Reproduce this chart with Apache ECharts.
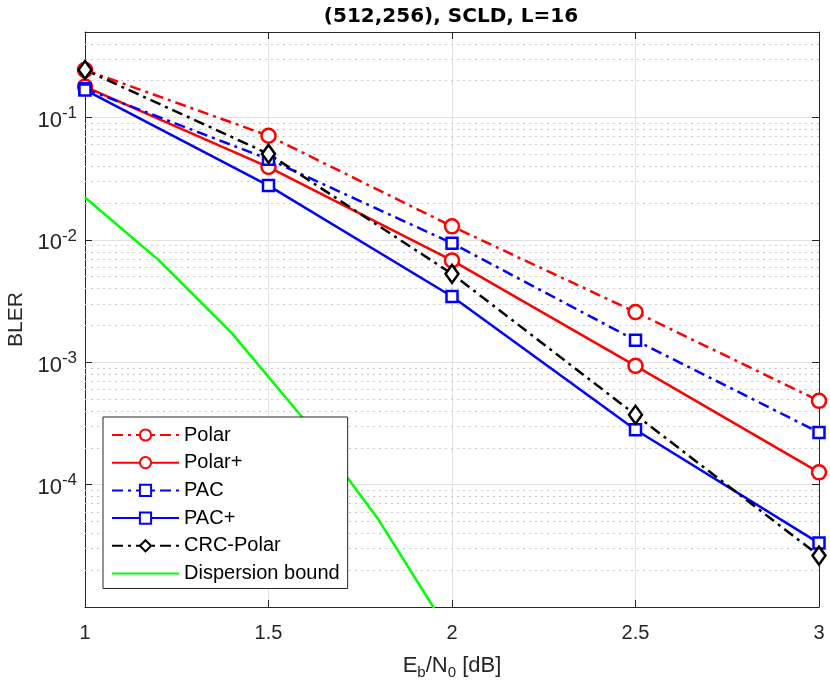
<!DOCTYPE html>
<html>
<head>
<meta charset="utf-8">
<script src="https://cdn.jsdelivr.net/npm/echarts@6/dist/echarts.min.js"></script>
<style>
html, body { margin: 0; padding: 0; background: #fff; }
#chartDiv { width: 830px; height: 686px; }
</style>
</head>
<body>
<div id="chartDiv"></div>
<script>
var snr = [1, 1.5, 2, 2.5, 3];
var polar = [0.245, 0.071, 0.0129, 0.00257, 4.84e-4];
var polarPlus = [0.179, 0.0394, 0.0068, 9.35e-4, 1.26e-4];
var pac = [0.172, 0.0457, 0.0094, 1.51e-3, 2.67e-4];
var pacPlus = [0.168, 0.0278, 0.00345, 2.81e-4, 3.33e-5];
var crcPolar = [0.245, 0.0505, 0.00528, 3.72e-4, 2.63e-5];
var boundSnr = [1, 1.2, 1.4, 1.6, 1.8, 2];
var bound = [0.0222, 0.00687, 1.73e-3, 3.33e-4, 5.16e-5, 5.7e-6];
// minor grid values 2..9 x 10^k
var minorY = [];
[1e-5, 1e-4, 1e-3, 1e-2, 1e-1].forEach(function (d) {
    for (var k = 2; k <= 9; k++) {
        if (k * d < 0.5) minorY.push(k * d);
    }
});

var myChart = echarts.init(document.getElementById('chartDiv'));
var FONT = 'Liberation Sans';
var AXIS = '#262626';

function pairs(xs, ys) {
    return xs.map(function (x, i) { return [x, ys[i]]; });
}

function yLabel(v) {
    var e = Math.round(Math.log10(v));
    if (Math.abs(Math.log10(v) - e) > 1e-6 || e <= -5 || e >= 0) return '';
    return '{a|10}{b|' + e + '}';
}

var dashDot = [11, 5, 3, 5];

function curve(name, ys, color, dashed, symbol, size) {
    return {
        name: name,
        type: 'line',
        data: pairs(snr, ys),
        symbol: symbol,
        symbolSize: size,
        showSymbol: true,
        clip: false,
        itemStyle: { color: '#fff', borderColor: color, borderWidth: 2.5 },
        lineStyle: { color: color, width: 2.5, type: dashed ? dashDot : 'solid' },
        z: 3
    };
}

myChart.setOption({
    animation: false,
    title: {
        text: '(512,256), SCLD, L=16',
        left: 446,
        textAlign: 'center',
        top: 2,
        textStyle: { fontFamily: 'DejaVu Sans', fontWeight: 'bold', fontSize: 20, color: '#000' }
    },
    grid: { left: 85, right: 11, top: 32, bottom: 79, containLabel: false, outerBoundsMode: 'none' },
    legend: {
        orient: 'vertical',
        left: 103,
        top: 417,
        padding: [8, 8, 5, 8],
        itemWidth: 67,
        itemHeight: 14,
        itemGap: 7.7,
        backgroundColor: '#fff',
        borderColor: AXIS,
        borderWidth: 1,
        borderRadius: 0,
        data: ['Polar', 'Polar+', 'PAC', 'PAC+', 'CRC-Polar', 'Dispersion bound'],
        textStyle: { fontFamily: FONT, fontSize: 20, lineHeight: 20, color: '#000' }
    },
    xAxis: [{
        type: 'value',
        min: 1,
        max: 3,
        interval: 0.5,
        name: '{a|E}{s|b}{a|/N}{s|0}{a| [dB]}',
        nameLocation: 'middle',
        nameGap: 44,
        nameTextStyle: {
            rich: {
                a: { fontFamily: FONT, fontSize: 22, color: '#262626' },
                s: { fontFamily: FONT, fontSize: 15, color: '#262626', padding: [14, 0, 0, 0] }
            }
        },
        axisLine: { show: true, onZero: false, lineStyle: { color: AXIS, width: 1 } },
        axisTick: { show: true, inside: true, length: 7, lineStyle: { color: AXIS } },
        axisLabel: { fontFamily: FONT, fontSize: 20, color: '#262626', margin: 16 },
        splitLine: { show: true, lineStyle: { color: '#e3e3e3', width: 1 } }
    }, {
        type: 'value',
        position: 'top',
        min: 1,
        max: 3,
        interval: 0.5,
        axisLine: { show: true, onZero: false, lineStyle: { color: AXIS, width: 1 } },
        axisTick: { show: true, inside: true, length: 7, lineStyle: { color: AXIS } },
        axisLabel: { show: false },
        splitLine: { show: false }
    }],
    yAxis: [{
        type: 'log',
        logBase: 10,
        min: 1e-5,
        max: 0.5,
        name: 'BLER',
        nameLocation: 'middle',
        nameGap: 57,
        nameTextStyle: { fontFamily: FONT, fontSize: 21, color: '#262626' },
        axisLine: { show: true, onZero: false, lineStyle: { color: AXIS, width: 1 } },
        axisTick: { show: true, inside: true, length: 7, lineStyle: { color: AXIS } },
        axisLabel: {
            margin: 8,
            formatter: yLabel,
            rich: {
                a: { fontFamily: FONT, fontSize: 22, color: '#262626', padding: [7, 0, 0, 0] },
                b: { fontFamily: FONT, fontSize: 17, color: '#262626', padding: [0, 0, 8, 0] }
            }
        },
        splitLine: { show: true, lineStyle: { color: '#e3e3e3', width: 1 } }
    }, {
        type: 'log',
        logBase: 10,
        min: 1e-5,
        max: 0.5,
        position: 'right',
        axisLine: { show: true, onZero: false, lineStyle: { color: AXIS, width: 1 } },
        axisTick: { show: true, inside: true, length: 7, lineStyle: { color: AXIS } },
        axisLabel: { show: false },
        splitLine: { show: false }
    }],
    series: [
        {
            name: 'minor-grid',
            type: 'lines',
            coordinateSystem: 'cartesian2d',
            silent: true,
            z: 1,
            lineStyle: { color: '#c8c8c8', width: 1, type: [2, 4], opacity: 1 },
            data: minorY.map(function (v) { return { coords: [[1, v], [3, v]] }; })
        },
        curve('Polar', polar, '#ff0000', true, 'circle', 14),
        curve('Polar+', polarPlus, '#ff0000', false, 'circle', 14),
        curve('PAC', pac, '#0000ff', true, 'rect', 11),
        curve('PAC+', pacPlus, '#0000ff', false, 'rect', 11),
        curve('CRC-Polar', crcPolar, '#000000', true, 'diamond', [13, 18]),
        {
            name: 'Dispersion bound',
            type: 'line',
            data: pairs(boundSnr, bound),
            symbol: 'none',
            showSymbol: false,
            clip: true,
            itemStyle: { color: 'rgba(0,0,0,0)', borderWidth: 0 },
            lineStyle: { color: '#00ff00', width: 2.5 },
            z: 3
        }
    ]
});
window.onresize = myChart.resize;
</script>
</body>
</html>
